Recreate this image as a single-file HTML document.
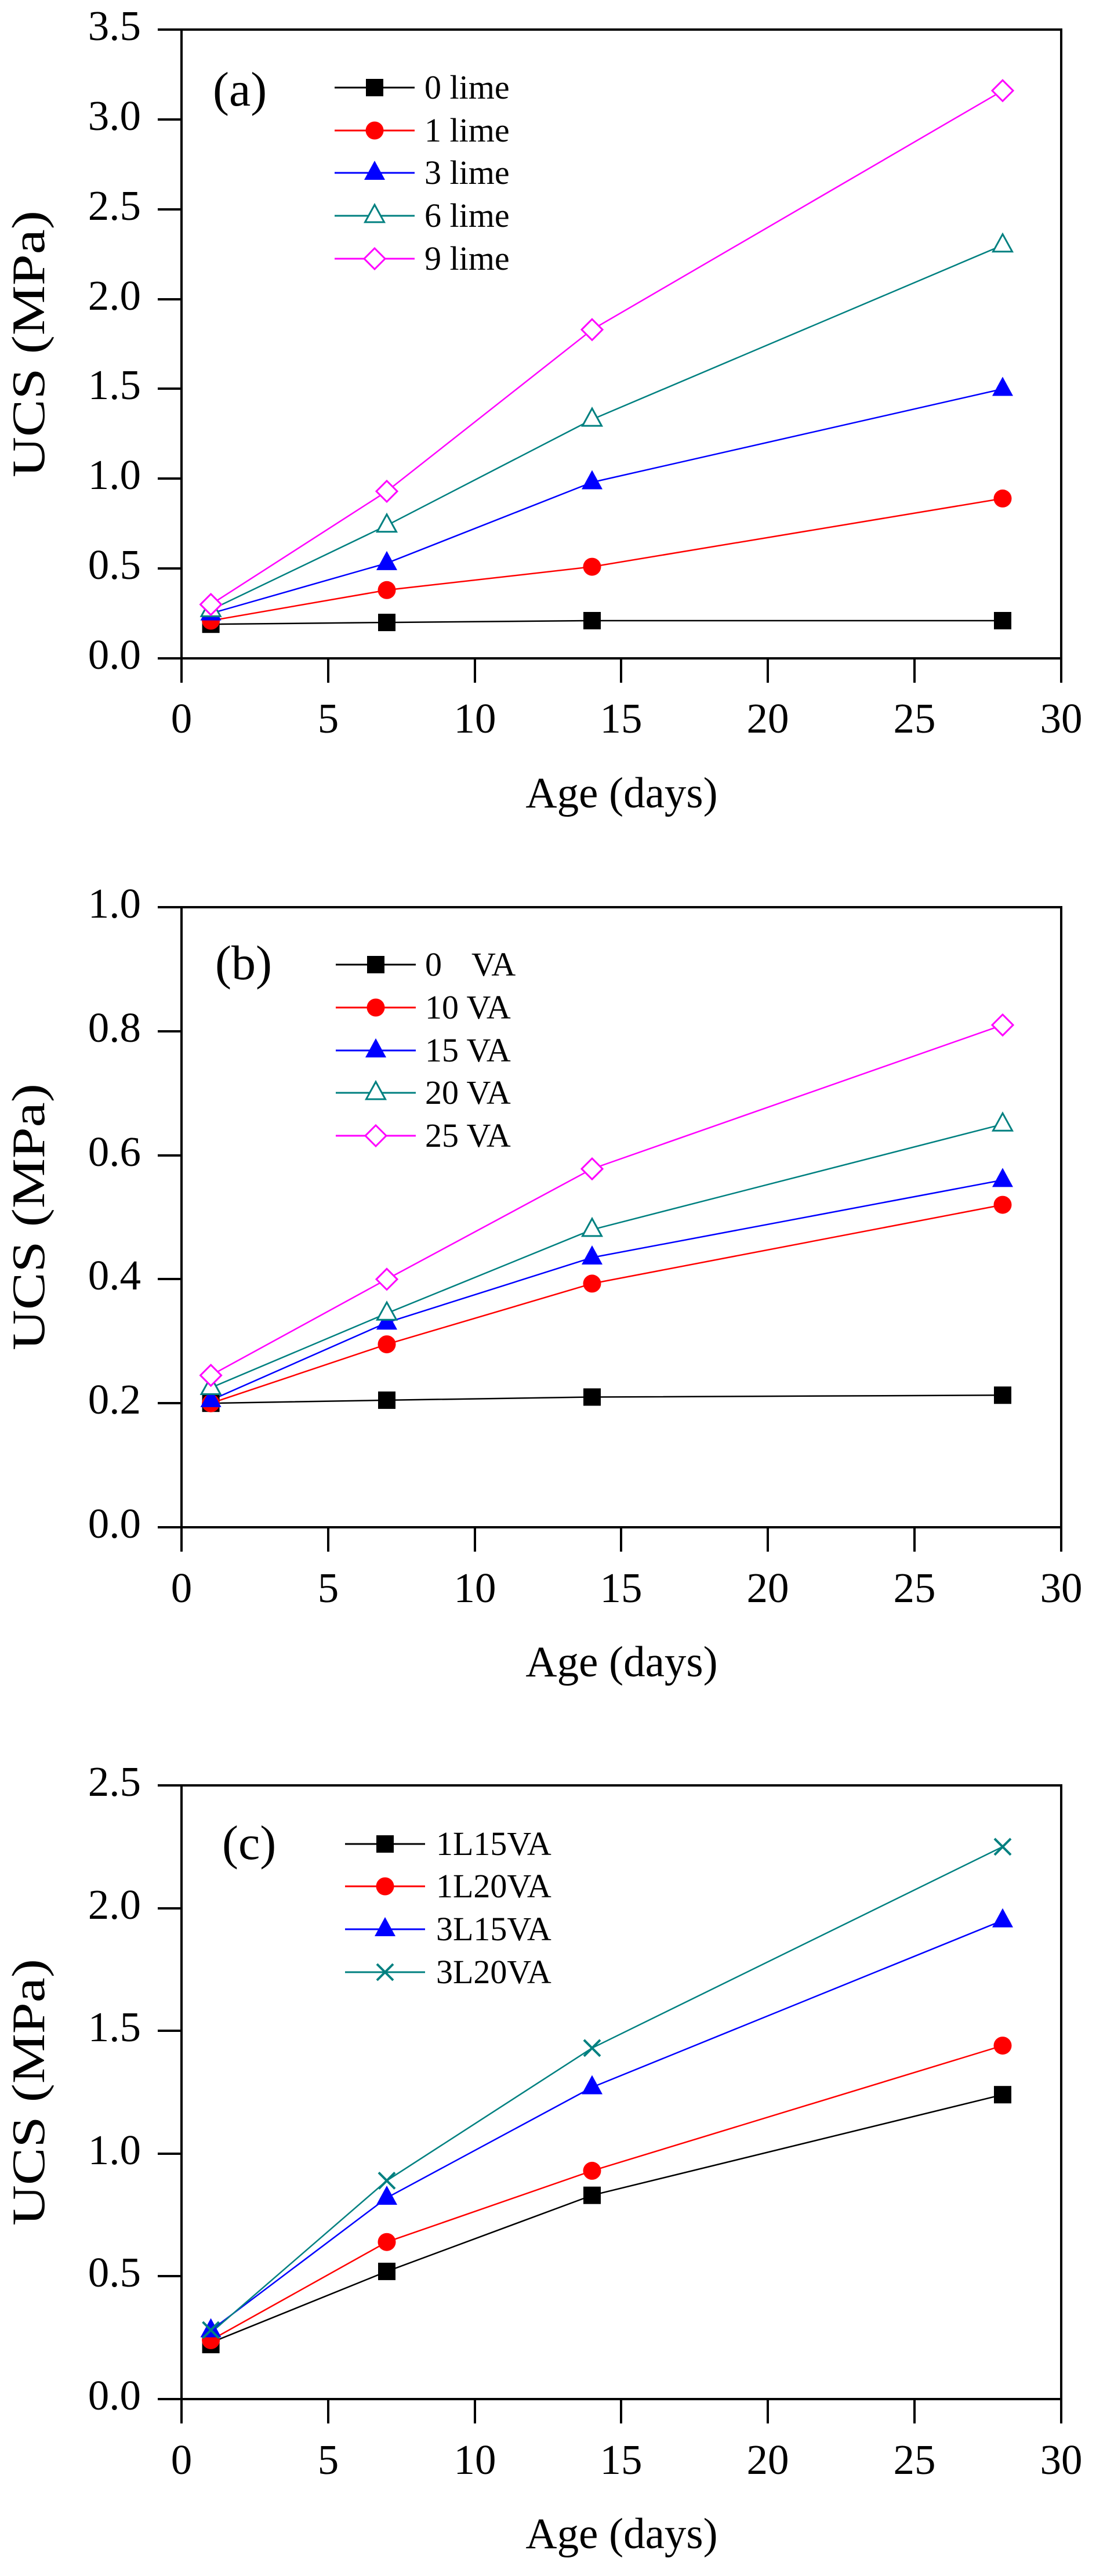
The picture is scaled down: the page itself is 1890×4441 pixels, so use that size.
<!DOCTYPE html>
<html><head><meta charset="utf-8"><style>html,body{margin:0;padding:0;background:#fff}svg{display:block}svg text{font-family:"Liberation Serif","Times New Roman",serif}</style></head>
<body>
<svg width="1890" height="4441" viewBox="0 0 1890 4441" xmlns="http://www.w3.org/2000/svg">
<defs>
<rect id="sq" x="-15" y="-15" width="30" height="30" fill="#000"/>
<circle id="ci" r="15.5" fill="#f00"/>
<polygon id="tf" points="0,-21 18,12 -18,12" fill="#00f"/>
<polygon id="to" points="0,-19 16.5,11 -16.5,11" fill="#fff" stroke="#008080" stroke-width="3"/>
<polygon id="di" points="0,-18 18,0 0,18 -18,0" fill="#fff" stroke="#f0f" stroke-width="3"/>
<g id="xx" stroke="#008080" stroke-width="4"><line x1="-14" y1="-14" x2="14" y2="14"/><line x1="-14" y1="14" x2="14" y2="-14"/></g>
</defs>

<!-- ============ PLOT A ============ -->
<g stroke="#000" stroke-width="4" fill="none">
<rect x="313" y="51" width="1517" height="1084"/>
<path d="M313 1135V1177M566 1135V1177M819 1135V1177M1071 1135V1177M1324 1135V1177M1577 1135V1177M1830 1135V1177"/>
<path d="M272 1135H313M272 980H313M272 825H313M272 670H313M272 516H313M272 361H313M272 206H313M272 51H313"/>
</g>
<g font-size="73" text-anchor="end">
<text x="243" y="1153">0.0</text><text x="243" y="998">0.5</text><text x="243" y="843">1.0</text><text x="243" y="688">1.5</text><text x="243" y="534">2.0</text><text x="243" y="379">2.5</text><text x="243" y="224">3.0</text><text x="243" y="69">3.5</text>
</g>
<g font-size="73" text-anchor="middle">
<text x="313" y="1263">0</text><text x="566" y="1263">5</text><text x="819" y="1263">10</text><text x="1071" y="1263">15</text><text x="1324" y="1263">20</text><text x="1577" y="1263">25</text><text x="1830" y="1263">30</text>
</g>
<text x="1072" y="1392" font-size="75" text-anchor="middle">Age (days)</text>
<text transform="translate(76,823) rotate(-90)" font-size="80" textLength="460" lengthAdjust="spacingAndGlyphs">UCS (MPa)</text>
<text x="367" y="182" font-size="84">(a)</text>
<g fill="none" stroke-width="2.5">
<polyline stroke="#000" points="363.6,1076.2 667,1073.1 1021,1070 1729,1070"/>
<polyline stroke="#f00" points="363.6,1070 667,1017.3 1021,977.1 1729,859.4"/>
<polyline stroke="#00f" points="363.6,1057.6 667,970.9 1021,831.5 1729,670.5"/>
<polyline stroke="#008080" points="363.6,1051.4 667,905.8 1021,723.1 1729,422.7"/>
<polyline stroke="#f0f" points="363.6,1042.1 667,847 1021,568.3 1729,156.3"/>
</g>
<use href="#sq" x="363.6" y="1076.2"/><use href="#sq" x="667" y="1073.1"/><use href="#sq" x="1021" y="1070"/><use href="#sq" x="1729" y="1070"/>
<use href="#ci" x="363.6" y="1070"/><use href="#ci" x="667" y="1017.3"/><use href="#ci" x="1021" y="977.1"/><use href="#ci" x="1729" y="859.4"/>
<use href="#tf" x="363.6" y="1057.6"/><use href="#tf" x="667" y="970.9"/><use href="#tf" x="1021" y="831.5"/><use href="#tf" x="1729" y="670.5"/>
<use href="#to" x="363.6" y="1051.4"/><use href="#to" x="667" y="905.8"/><use href="#to" x="1021" y="723.1"/><use href="#to" x="1729" y="422.7"/>
<use href="#di" x="363.6" y="1042.1"/><use href="#di" x="667" y="847"/><use href="#di" x="1021" y="568.3"/><use href="#di" x="1729" y="156.3"/>
<g stroke-width="3">
<line x1="577" y1="151" x2="715" y2="151" stroke="#000"/>
<line x1="577" y1="225" x2="715" y2="225" stroke="#f00"/>
<line x1="577" y1="298" x2="715" y2="298" stroke="#00f"/>
<line x1="577" y1="372" x2="715" y2="372" stroke="#008080"/>
<line x1="577" y1="446" x2="715" y2="446" stroke="#f0f"/>
</g>
<use href="#sq" x="646" y="151"/><use href="#ci" x="646" y="225"/><use href="#tf" x="646" y="298"/><use href="#to" x="646" y="372"/><use href="#di" x="646" y="446"/>
<g font-size="58">
<text x="732" y="170">0 lime</text><text x="732" y="244">1 lime</text><text x="732" y="317">3 lime</text><text x="732" y="391">6 lime</text><text x="732" y="465">9 lime</text>
</g>

<!-- ============ PLOT B ============ -->
<g stroke="#000" stroke-width="4" fill="none">
<rect x="313" y="1564" width="1517" height="1069"/>
<path d="M313 2633V2675M566 2633V2675M819 2633V2675M1071 2633V2675M1324 2633V2675M1577 2633V2675M1830 2633V2675"/>
<path d="M272 2633H313M272 2419H313M272 2205H313M272 1992H313M272 1778H313M272 1564H313"/>
</g>
<g font-size="73" text-anchor="end">
<text x="243" y="2651">0.0</text><text x="243" y="2437">0.2</text><text x="243" y="2223">0.4</text><text x="243" y="2010">0.6</text><text x="243" y="1796">0.8</text><text x="243" y="1582">1.0</text>
</g>
<g font-size="73" text-anchor="middle">
<text x="313" y="2762">0</text><text x="566" y="2762">5</text><text x="819" y="2762">10</text><text x="1071" y="2762">15</text><text x="1324" y="2762">20</text><text x="1577" y="2762">25</text><text x="1830" y="2762">30</text>
</g>
<text x="1072" y="2890" font-size="75" text-anchor="middle">Age (days)</text>
<text transform="translate(76,2328) rotate(-90)" font-size="80" textLength="460" lengthAdjust="spacingAndGlyphs">UCS (MPa)</text>
<text x="371" y="1688" font-size="84">(b)</text>
<g fill="none" stroke-width="2.5">
<polyline stroke="#000" points="363.6,2419.2 667,2413.9 1021,2408.5 1729,2405.3"/>
<polyline stroke="#f00" points="363.6,2419.2 667,2317.6 1021,2212.9 1729,2077.1"/>
<polyline stroke="#00f" points="363.6,2413.9 667,2280.2 1021,2168 1729,2034.4"/>
<polyline stroke="#008080" points="363.6,2392.5 667,2264.2 1021,2119.9 1729,1938.2"/>
<polyline stroke="#f0f" points="363.6,2371.1 667,2205.4 1021,2015.1 1729,1767.1"/>
</g>
<use href="#sq" x="363.6" y="2419.2"/><use href="#sq" x="667" y="2413.9"/><use href="#sq" x="1021" y="2408.5"/><use href="#sq" x="1729" y="2405.3"/>
<use href="#ci" x="363.6" y="2419.2"/><use href="#ci" x="667" y="2317.6"/><use href="#ci" x="1021" y="2212.9"/><use href="#ci" x="1729" y="2077.1"/>
<use href="#tf" x="363.6" y="2413.9"/><use href="#tf" x="667" y="2280.2"/><use href="#tf" x="1021" y="2168"/><use href="#tf" x="1729" y="2034.4"/>
<use href="#to" x="363.6" y="2392.5"/><use href="#to" x="667" y="2264.2"/><use href="#to" x="1021" y="2119.9"/><use href="#to" x="1729" y="1938.2"/>
<use href="#di" x="363.6" y="2371.1"/><use href="#di" x="667" y="2205.4"/><use href="#di" x="1021" y="2015.1"/><use href="#di" x="1729" y="1767.1"/>
<g stroke-width="3">
<line x1="579" y1="1663" x2="717" y2="1663" stroke="#000"/>
<line x1="579" y1="1737" x2="717" y2="1737" stroke="#f00"/>
<line x1="579" y1="1811" x2="717" y2="1811" stroke="#00f"/>
<line x1="579" y1="1884" x2="717" y2="1884" stroke="#008080"/>
<line x1="579" y1="1958" x2="717" y2="1958" stroke="#f0f"/>
</g>
<use href="#sq" x="648" y="1663"/><use href="#ci" x="648" y="1737"/><use href="#tf" x="648" y="1811"/><use href="#to" x="648" y="1884"/><use href="#di" x="648" y="1958"/>
<g font-size="58">
<text x="733" y="1682">0<tspan x="813">VA</tspan></text><text x="733" y="1756">10 VA</text><text x="733" y="1830">15 VA</text><text x="733" y="1903">20 VA</text><text x="733" y="1977">25 VA</text>
</g>

<!-- ============ PLOT C ============ -->
<g stroke="#000" stroke-width="4" fill="none">
<rect x="313" y="3078" width="1517" height="1058"/>
<path d="M313 4136V4178M566 4136V4178M819 4136V4178M1071 4136V4178M1324 4136V4178M1577 4136V4178M1830 4136V4178"/>
<path d="M272 4136H313M272 3924H313M272 3713H313M272 3501H313M272 3290H313M272 3078H313"/>
</g>
<g font-size="73" text-anchor="end">
<text x="243" y="4154">0.0</text><text x="243" y="3942">0.5</text><text x="243" y="3731">1.0</text><text x="243" y="3519">1.5</text><text x="243" y="3308">2.0</text><text x="243" y="3096">2.5</text>
</g>
<g font-size="73" text-anchor="middle">
<text x="313" y="4265">0</text><text x="566" y="4265">5</text><text x="819" y="4265">10</text><text x="1071" y="4265">15</text><text x="1324" y="4265">20</text><text x="1577" y="4265">25</text><text x="1830" y="4265">30</text>
</g>
<text x="1072" y="4393" font-size="75" text-anchor="middle">Age (days)</text>
<text transform="translate(76,3837) rotate(-90)" font-size="80" textLength="460" lengthAdjust="spacingAndGlyphs">UCS (MPa)</text>
<text x="383" y="3205" font-size="84">(c)</text>
<g fill="none" stroke-width="2.5">
<polyline stroke="#000" points="363.6,4038.7 667,3915.9 1021,3784.7 1729,3611.2"/>
<polyline stroke="#f00" points="363.6,4034.4 667,3865.2 1021,3742.4 1729,3526.6"/>
<polyline stroke="#00f" points="363.6,4017.5 667,3789 1021,3598.5 1729,3310.8"/>
<polyline stroke="#008080" points="363.6,4021.7 667,3759.4 1021,3530.8 1729,3183.8"/>
</g>
<use href="#sq" x="363.6" y="4042"/><use href="#sq" x="667" y="3915.9"/><use href="#sq" x="1021" y="3784.7"/><use href="#sq" x="1729" y="3611.2"/>
<use href="#ci" x="363.6" y="4034.4"/><use href="#ci" x="667" y="3865.2"/><use href="#ci" x="1021" y="3742.4"/><use href="#ci" x="1729" y="3526.6"/>
<use href="#tf" x="363.6" y="4017.5"/><use href="#tf" x="667" y="3789"/><use href="#tf" x="1021" y="3598.5"/><use href="#tf" x="1729" y="3310.8"/>
<use href="#xx" x="363.6" y="4017"/><use href="#xx" x="667" y="3759.4"/><use href="#xx" x="1021" y="3530.8"/><use href="#xx" x="1729" y="3183.8"/>
<g stroke-width="3">
<line x1="595" y1="3179" x2="733" y2="3179" stroke="#000"/>
<line x1="595" y1="3252" x2="733" y2="3252" stroke="#f00"/>
<line x1="595" y1="3326" x2="733" y2="3326" stroke="#00f"/>
<line x1="595" y1="3400" x2="733" y2="3400" stroke="#008080"/>
</g>
<use href="#sq" x="664" y="3179"/><use href="#ci" x="664" y="3252"/><use href="#tf" x="664" y="3326"/><use href="#xx" x="664" y="3400"/>
<g font-size="58">
<text x="752" y="3198">1L15VA</text><text x="752" y="3271">1L20VA</text><text x="752" y="3345">3L15VA</text><text x="752" y="3419">3L20VA</text>
</g>
</svg>
</body></html>
